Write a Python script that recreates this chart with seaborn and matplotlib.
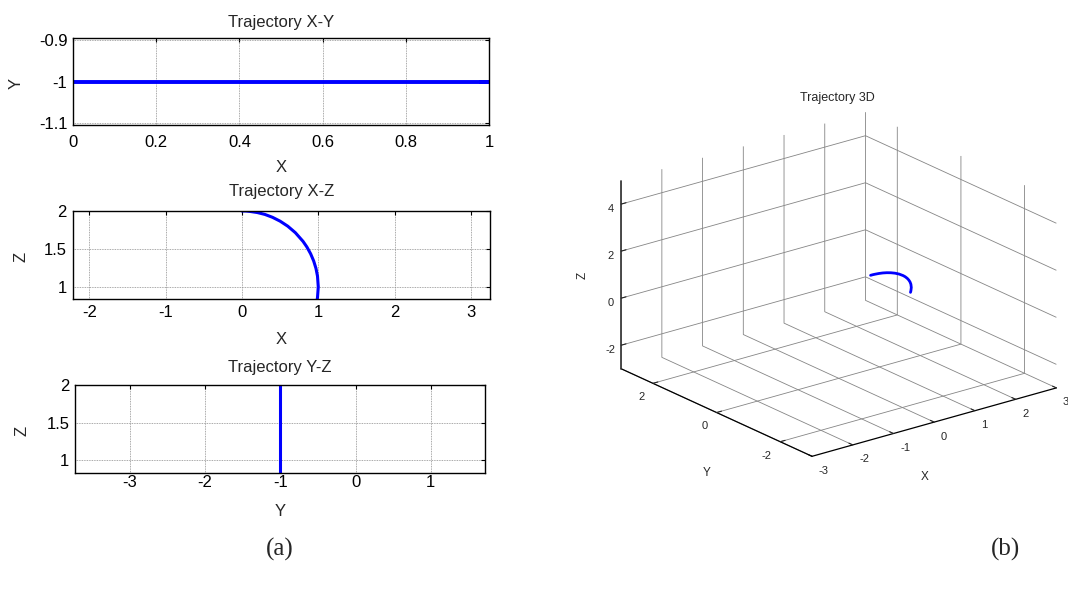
import matplotlib
matplotlib.use("Agg")
import matplotlib.pyplot as plt
import seaborn as sns
import pandas as pd

# Sampled end-effector trajectory (x, y, z)
traj_x = [0.0, 0.05, 0.1, 0.2, 0.3, 0.4, 0.5, 0.6, 0.7, 0.8, 0.85, 0.9, 0.94, 0.97, 0.99, 1.0, 0.99, 0.98]
traj_y = [-1.0, -1.0, -1.0, -1.0, -1.0, -1.0, -1.0, -1.0, -1.0, -1.0, -1.0, -1.0, -1.0, -1.0, -1.0, -1.0, -1.0, -1.0]
traj_z = [2.0, 2.0, 1.995, 1.98, 1.955, 1.917, 1.866, 1.80, 1.714, 1.60, 1.527, 1.436, 1.341, 1.243, 1.141, 1.0, 0.86, 0.80]

# Axis ticks
xy_xticks = [0, 0.2, 0.4, 0.6, 0.8, 1]
xy_xticklabels = ["0", "0.2", "0.4", "0.6", "0.8", "1"]
xy_yticks = [-1.1, -1.0, -0.9]
xy_yticklabels = ["-1.1", "-1", "-0.9"]
xz_xticks = [-2, -1, 0, 1, 2, 3]
z_ticks = [1, 1.5, 2]
z_ticklabels = ["1", "1.5", "2"]
yz_xticks = [-3, -2, -1, 0, 1]
t3_xticks = [-3, -2, -1, 0, 1, 2, 3]
t3_yticks = [-2, 0, 2]
t3_zticks = [-2, 0, 2, 4]

traj = pd.DataFrame({"x": traj_x, "y": traj_y, "z": traj_z})

sns.set_style("white")
plt.rcParams["font.family"] = ["Liberation Sans", "DejaVu Sans"]
plt.rcParams["axes.unicode_minus"] = False

W, H = 1068, 591
fig = plt.figure(figsize=(W / 100, H / 100), dpi=100)


def px_rect(x0, y0, x1, y1):
    return [x0 / W, 1 - y1 / H, (x1 - x0) / W, (y1 - y0) / H]


LINE = "#0000ff"
GRID = dict(color="#8c8c8c", linestyle=(0, (1, 1)), linewidth=0.6)
FS = 12


def style_2d(ax, xpad):
    ax.grid(True, **GRID)
    ax.set_axisbelow(True)
    for s in ax.spines.values():
        s.set_color("black")
        s.set_linewidth(1.0)
    ax.tick_params(axis="both", direction="in", length=3, width=0.8,
                   top=True, right=True, labelsize=FS, colors="black")
    ax.tick_params(axis="x", pad=xpad)
    ax.tick_params(axis="y", pad=4)


def place_labels(ax, xlabel, ylabel, xl_y, yl_x, title, title_y):
    ax.set_xlabel(xlabel, fontsize=FS)
    ax.set_ylabel(ylabel, fontsize=FS)
    ax.xaxis.label.set_va("center")
    ax.yaxis.label.set_va("center")
    ax.xaxis.set_label_coords(0.5, xl_y)
    ax.yaxis.set_label_coords(yl_x, 0.48)
    ax.set_title(title, fontsize=FS, pad=0, y=title_y, va="baseline")


# Trajectory X-Y
ax1 = fig.add_axes(px_rect(73, 38, 489, 125))
sns.lineplot(data=traj, x="x", y="y", sort=False, estimator=None,
             color=LINE, linewidth=2.8, ax=ax1)
ax1.set_xlim(0, 1)
ax1.set_ylim(-1.105, -0.895)
ax1.set_xticks(xy_xticks, xy_xticklabels)
ax1.set_yticks(xy_yticks, xy_yticklabels)
style_2d(ax1, xpad=7.0)
place_labels(ax1, "X", "Y", -0.489, -0.137, "Trajectory X-Y", 1.121)

# Trajectory X-Z
ax2 = fig.add_axes(px_rect(72.5, 211, 490, 299))
sns.lineplot(data=traj, x="x", y="z", sort=False, estimator=None,
             color=LINE, linewidth=2.2, ax=ax2)
ax2.set_xlim(-2.22, 3.25)
ax2.set_ylim(0.84, 2.0)
ax2.set_xticks(xz_xticks, [str(v) for v in xz_xticks])
ax2.set_yticks(z_ticks, z_ticklabels)
style_2d(ax2, xpad=4.0)
place_labels(ax2, "X", "Z", -0.459, -0.123, "Trajectory X-Z", 1.170)

# Trajectory Y-Z
ax3 = fig.add_axes(px_rect(75, 385, 485, 473))
sns.lineplot(data=traj, x="y", y="z", sort=False, estimator=None,
             color=LINE, linewidth=2.2, ax=ax3)
ax3.set_xlim(-3.73, 1.72)
ax3.set_ylim(0.83, 2.0)
ax3.set_xticks(yz_xticks, [str(v) for v in yz_xticks])
ax3.set_yticks(z_ticks, z_ticklabels)
style_2d(ax3, xpad=1.2)
place_labels(ax3, "Y", "Z", -0.4375, -0.13, "Trajectory Y-Z", 1.151)

# Trajectory 3D
A3 = (582, 41, 1082, 541)
ax4 = fig.add_axes(px_rect(*A3), projection="3d")
ax4.set_facecolor("none")
ax4.plot(traj_x, traj_y, traj_z, color=LINE, linewidth=2.0)
ax4.set_proj_type("ortho")
ax4.set_xlim(-3, 3)
ax4.set_ylim(-3, 3)
ax4.set_zlim(-3, 5)
ax4.set_box_aspect((1, 1, 0.65), zoom=0.937)
ax4.view_init(elev=21, azim=-128)
ax4.set_xticks(t3_xticks, [str(v) for v in t3_xticks])
ax4.set_yticks(t3_yticks, [str(v) for v in t3_yticks])
ax4.set_zticks(t3_zticks, [str(v) for v in t3_zticks])
for axis in (ax4.xaxis, ax4.yaxis, ax4.zaxis):
    axis.set_pane_color((1, 1, 1, 0))
    axis.pane.set_edgecolor("none")
    axis._axinfo["grid"].update(color="#858585", linewidth=0.6, linestyle="-")
    axis._axinfo["tick"].update(inward_factor=0.0, outward_factor=0.25)
    axis.line.set_color("black")
    axis.line.set_linewidth(0.9)
ax4.zaxis.line.set_color("#333333")
ax4.zaxis.line.set_linewidth(1.2)
ax4.tick_params(axis="x", labelsize=8, pad=-1.5)
ax4.tick_params(axis="y", labelsize=8, pad=-1.5)
ax4.tick_params(axis="z", labelsize=8, pad=-3.5)
for lbl in ax4.xaxis.get_ticklabels():
    lbl.set_ha("left")
for lbl in ax4.yaxis.get_ticklabels():
    lbl.set_ha("right")


def ax3d_frac(px, py):
    x0, y0, x1, y1 = A3
    return (px - x0) / (x1 - x0), (y1 - py) / (y1 - y0)


ax4.text2D(*ax3d_frac(837, 98), "Trajectory 3D", transform=ax4.transAxes,
           fontsize=9, ha="center", va="center")
ax4.text2D(*ax3d_frac(925, 477), "X", transform=ax4.transAxes,
           fontsize=8.5, ha="center", va="center")
ax4.text2D(*ax3d_frac(707, 473), "Y", transform=ax4.transAxes,
           fontsize=8.5, ha="center", va="center")
ax4.text2D(*ax3d_frac(583, 275), "Z", transform=ax4.transAxes,
           fontsize=8.5, ha="center", va="center", rotation=90)

fig.text(280 / W, 1 - 549 / H, "(a)", ha="center", va="center",
         fontsize=18, family=["Liberation Serif", "DejaVu Serif"])
fig.text(1005 / W, 1 - 549 / H, "(b)", ha="center", va="center",
         fontsize=18, family=["Liberation Serif", "DejaVu Serif"])

fig.savefig("out.png", dpi=100, facecolor="white")
